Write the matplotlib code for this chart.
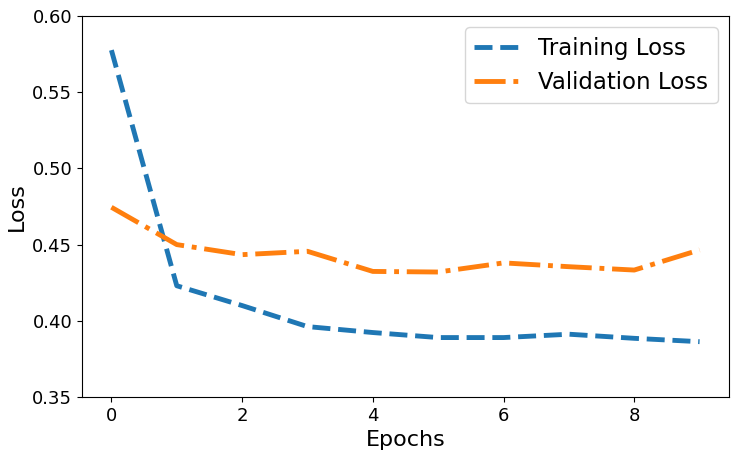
import matplotlib
matplotlib.use("Agg")
import matplotlib.pyplot as plt

epochs = list(range(10))
train_loss = [0.5776, 0.423, 0.410, 0.3962, 0.3923, 0.389, 0.389, 0.3912, 0.3885, 0.3863]
val_loss = [0.4745, 0.450, 0.4434, 0.4456, 0.4324, 0.432, 0.438, 0.4355, 0.4333, 0.4465]

fig = plt.figure(figsize=(7.42, 4.57), dpi=100)
ax = fig.add_axes([82/742, 1-397/457, (729-82)/742, (397-16)/457])
ax.plot(epochs, train_loss, linestyle='--', linewidth=3.5, color='#1f77b4', label='Training Loss')
ax.plot(epochs, val_loss, linestyle='-.', linewidth=3.5, color='#ff7f0e', label='Validation Loss')
ax.set_ylim(0.35, 0.60)
ax.set_xticks([0, 2, 4, 6, 8])
ax.tick_params(labelsize=13)
ax.set_xlabel('Epochs', fontsize=16)
ax.set_ylabel('Loss', fontsize=16)
ax.legend(fontsize=16.5, loc='upper right')
fig.savefig('out.png', dpi=100)
